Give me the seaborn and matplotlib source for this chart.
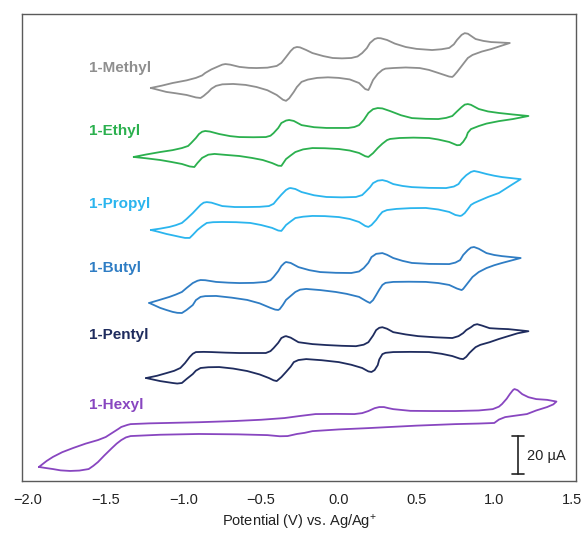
import numpy as np
import pandas as pd
import matplotlib
matplotlib.use("Agg")
import matplotlib.pyplot as plt
import seaborn as sns

# ---------------- data: (potential / V, current / µA) ----------------
compounds = ["1-Methyl", "1-Ethyl", "1-Propyl", "1-Butyl", "1-Pentyl", "1-Hexyl"]
colors = ["#8f8f8f", "#2bb04e", "#2bb5ee", "#2f7dc4", "#1f2c5e", "#8846c0"]
offsets = [207.3, 170.9, 132.4, 93.9, 54.3, 7.4]          # vertical stacking (µA)
label_y = [217.8, 184.6, 146.1, 112.3, 77.0, 40.1]

methyl_scan = [
    (-1.21, 0), (-1.14, 1.2), (-1.07, 2.6), (-0.98, 4.0), (-0.92, 5.3), (-0.88, 6.6), (-0.86, 7.9),
    (-0.82, 9.8), (-0.77, 11.6), (-0.75, 12.3), (-0.73, 12.6), (-0.70, 12.3), (-0.64, 11.1),
    (-0.58, 10.6), (-0.53, 10.5), (-0.46, 10.7), (-0.40, 11.6), (-0.37, 13.2), (-0.34, 16.3),
    (-0.31, 19.5), (-0.29, 21.1), (-0.27, 21.6), (-0.25, 21.4), (-0.21, 20.0), (-0.17, 18.4),
    (-0.10, 16.8), (-0.04, 15.8), (0.02, 15.6), (0.08, 15.8), (0.12, 16.6), (0.15, 18.4),
    (0.18, 21.0), (0.20, 23.7), (0.23, 25.8), (0.25, 26.3), (0.27, 26.2), (0.31, 25.3),
    (0.36, 23.4), (0.43, 21.6), (0.50, 20.6), (0.60, 20.0), (0.66, 20.4), (0.71, 21.1),
    (0.74, 23.0), (0.76, 25.3), (0.79, 28.0), (0.81, 28.9), (0.83, 28.6), (0.88, 25.8),
    (0.93, 24.8), (0.98, 24.2), (1.10, 23.7),
    (0.98, 20.5), (0.92, 19.2), (0.86, 17.4), (0.83, 15.8), (0.81, 13.7), (0.78, 10.5),
    (0.76, 8.4), (0.74, 6.5), (0.73, 5.8), (0.71, 6.0), (0.64, 7.9), (0.58, 9.5), (0.52, 10.5),
    (0.43, 10.8), (0.35, 10.5), (0.30, 10.2), (0.28, 9.5), (0.25, 7.4), (0.22, 4.2), (0.20, 0.5),
    (0.19, -1.1), (0.17, -0.6), (0.13, 2.6), (0.07, 4.5), (0.00, 5.3), (-0.07, 5.6), (-0.14, 5.3),
    (-0.20, 4.4), (-0.24, 3.2), (-0.27, 0.5), (-0.29, -2.1), (-0.32, -5.5), (-0.34, -6.8),
    (-0.36, -6.2), (-0.40, -3.7), (-0.46, -1.2), (-0.53, 0.5), (-0.60, 1.6), (-0.68, 2.1),
    (-0.75, 1.9), (-0.79, 1.1), (-0.82, -0.4), (-0.84, -2.1), (-0.87, -4.2), (-0.89, -5.3),
    (-0.92, -5.0), (-0.98, -3.7), (-1.05, -2.8), (-1.11, -2.1), (-1.21, 0)]

ethyl_scan = [
    (-1.32, 0), (-1.24, 1.3), (-1.15, 2.6), (-1.07, 3.6), (-1.01, 4.7), (-0.97, 5.8), (-0.95, 7.4),
    (-0.92, 10.0), (-0.90, 12.1), (-0.88, 13.3), (-0.86, 13.7), (-0.83, 13.4), (-0.77, 12.1),
    (-0.70, 11.0), (-0.64, 10.5), (-0.55, 10.4), (-0.47, 10.5), (-0.44, 11.2), (-0.42, 12.6),
    (-0.39, 15.3), (-0.37, 17.9), (-0.34, 19.2), (-0.32, 19.5), (-0.29, 19.0), (-0.24, 16.8),
    (-0.16, 15.7), (-0.08, 15.3), (0.06, 15.3), (0.10, 15.8), (0.13, 16.8), (0.16, 19.5),
    (0.19, 23.2), (0.22, 25.2), (0.25, 25.8), (0.28, 25.6), (0.33, 24.2), (0.40, 22.0),
    (0.47, 20.5), (0.56, 20.1), (0.64, 20.0), (0.69, 20.6), (0.73, 21.6), (0.76, 24.0),
    (0.79, 26.3), (0.81, 27.6), (0.83, 27.9), (0.85, 27.5), (0.90, 25.3), (0.96, 24.0),
    (1.03, 23.2), (1.12, 22.4), (1.22, 21.6),
    (1.12, 20.0), (1.03, 18.9), (0.95, 17.6), (0.90, 16.3), (0.85, 14.7), (0.83, 12.8),
    (0.82, 10.5), (0.80, 8.0), (0.78, 6.3), (0.76, 6.2), (0.71, 7.9), (0.64, 9.2), (0.58, 10.0),
    (0.48, 10.2), (0.39, 10.0), (0.33, 9.5), (0.31, 8.9), (0.28, 7.0), (0.25, 4.7), (0.22, 2.0),
    (0.19, 0), (0.17, 0.4), (0.13, 2.1), (0.07, 3.4), (0.00, 4.2), (-0.09, 4.6), (-0.17, 4.7),
    (-0.23, 4.0), (-0.28, 2.6), (-0.31, 0.8), (-0.34, -1.1), (-0.36, -3.5), (-0.37, -4.7),
    (-0.39, -4.6), (-0.43, -3.2), (-0.49, -1.6), (-0.56, -0.5), (-0.64, 0.5), (-0.73, 1.1),
    (-0.80, 1.6), (-0.84, 1.2), (-0.88, -0.5), (-0.91, -3.2), (-0.93, -5.3), (-0.96, -5.0),
    (-1.01, -3.7), (-1.08, -2.6), (-1.15, -1.6), (-1.24, -0.7), (-1.32, 0)]

propyl_scan = [
    (-1.21, 0), (-1.15, 0.7), (-1.09, 1.6), (-1.05, 2.5), (-1.01, 3.7), (-0.98, 5.8), (-0.94, 8.9),
    (-0.91, 11.5), (-0.89, 13.2), (-0.87, 14.4), (-0.85, 14.7), (-0.82, 14.4), (-0.75, 12.6),
    (-0.67, 12.1), (-0.59, 12.1), (-0.51, 12.2), (-0.45, 12.6), (-0.42, 13.8), (-0.40, 15.8),
    (-0.37, 18.6), (-0.34, 21.1), (-0.32, 22.0), (-0.31, 22.1), (-0.28, 21.6), (-0.24, 20.0),
    (-0.16, 18.3), (-0.08, 17.4), (0.02, 17.2), (0.11, 17.4), (0.15, 18.4), (0.17, 20.0),
    (0.20, 22.5), (0.22, 24.7), (0.25, 26.0), (0.28, 26.3), (0.31, 25.7), (0.35, 24.2),
    (0.41, 23.2), (0.47, 22.6), (0.58, 22.2), (0.69, 22.1), (0.74, 22.9), (0.77, 24.2),
    (0.79, 26.5), (0.82, 28.9), (0.85, 30.6), (0.87, 31.1), (0.90, 30.6), (0.95, 29.5),
    (1.00, 28.6), (1.05, 27.9), (1.17, 26.8),
    (1.11, 23.7), (1.07, 21.6), (1.03, 19.5), (0.96, 17.4), (0.90, 15.3), (0.87, 14.2),
    (0.85, 13.2), (0.83, 11.0), (0.81, 8.9), (0.79, 7.6), (0.78, 7.4), (0.75, 7.9), (0.71, 9.5),
    (0.64, 10.8), (0.56, 11.6), (0.46, 11.5), (0.37, 11.1), (0.31, 10.5), (0.28, 9.5),
    (0.26, 7.6), (0.24, 5.3), (0.21, 2.6), (0.19, 1.6), (0.17, 2.1), (0.13, 4.2), (0.07, 5.8),
    (0.00, 6.8), (-0.09, 7.3), (-0.17, 7.4), (-0.23, 7.0), (-0.28, 6.3), (-0.31, 4.5),
    (-0.34, 2.6), (-0.36, 0.5), (-0.37, -0.5), (-0.39, -0.3), (-0.43, 1.1), (-0.50, 2.6),
    (-0.57, 3.7), (-0.66, 4.1), (-0.75, 4.2), (-0.81, 4.1), (-0.85, 3.7), (-0.88, 2.0),
    (-0.91, 0), (-0.94, -2.6), (-0.96, -4.2), (-0.99, -4.2), (-1.02, -3.7), (-1.07, -2.8),
    (-1.11, -2.1), (-1.16, -1.0), (-1.21, 0)]

butyl_scan = [
    (-1.22, 0), (-1.15, 1.7), (-1.09, 3.2), (-1.05, 4.4), (-1.01, 5.8), (-0.98, 7.9), (-0.94, 10.5),
    (-0.91, 11.7), (-0.89, 12.1), (-0.86, 12.0), (-0.79, 11.1), (-0.71, 10.7), (-0.64, 10.5),
    (-0.55, 10.6), (-0.47, 11.1), (-0.44, 12.0), (-0.42, 13.7), (-0.39, 16.8), (-0.37, 19.5),
    (-0.35, 21.1), (-0.34, 21.6), (-0.31, 21.1), (-0.26, 18.9), (-0.19, 17.3), (-0.12, 16.3),
    (-0.02, 15.9), (0.08, 15.8), (0.13, 16.6), (0.16, 18.4), (0.19, 21.2), (0.21, 24.2),
    (0.24, 25.9), (0.28, 26.3), (0.31, 25.4), (0.35, 23.7), (0.41, 22.2), (0.47, 21.1),
    (0.58, 20.6), (0.71, 20.5), (0.75, 21.3), (0.78, 22.6), (0.80, 25.3), (0.83, 27.9),
    (0.85, 29.2), (0.87, 29.5), (0.90, 28.6), (0.95, 26.3), (1.00, 25.3), (1.05, 24.7),
    (1.17, 23.7),
    (1.11, 22.4), (1.05, 21.1), (1.00, 19.9), (0.95, 18.4), (0.90, 16.3), (0.86, 13.7),
    (0.84, 11.6), (0.82, 9.5), (0.80, 7.4), (0.79, 6.8), (0.76, 7.6), (0.71, 9.5), (0.64, 10.5),
    (0.56, 11.1), (0.45, 11.2), (0.35, 11.1), (0.30, 10.6), (0.28, 9.5), (0.26, 7.0), (0.24, 4.2),
    (0.22, 1.5), (0.20, 0), (0.18, 0.8), (0.13, 3.2), (0.05, 4.8), (-0.02, 5.8), (-0.12, 6.8),
    (-0.21, 7.4), (-0.25, 7.0), (-0.28, 5.8), (-0.31, 3.7), (-0.34, 1.6), (-0.36, -1.0),
    (-0.38, -3.2), (-0.39, -3.7), (-0.41, -3.5), (-0.44, -2.6), (-0.51, -0.2), (-0.59, 1.6),
    (-0.69, 2.8), (-0.79, 3.7), (-0.86, 3.6), (-0.89, 3.2), (-0.92, 1.5), (-0.94, -1.1),
    (-0.98, -3.7), (-1.01, -5.3), (-1.04, -5.2), (-1.07, -4.7), (-1.11, -3.7), (-1.15, -2.6),
    (-1.22, 0)]

pentyl_scan = [
    (-1.24, 0), (-1.17, 1.2), (-1.11, 2.6), (-1.06, 3.8), (-1.02, 5.3), (-0.99, 7.9), (-0.96, 11.1),
    (-0.94, 12.8), (-0.92, 13.7), (-0.87, 13.8), (-0.82, 13.7), (-0.73, 13.4), (-0.64, 13.2),
    (-0.55, 13.2), (-0.47, 13.2), (-0.44, 14.2), (-0.42, 15.8), (-0.39, 18.6), (-0.37, 21.1),
    (-0.35, 21.9), (-0.34, 22.1), (-0.31, 21.3), (-0.26, 18.9), (-0.17, 17.9), (-0.08, 17.4),
    (0.02, 17.0), (0.11, 16.8), (0.16, 17.6), (0.19, 18.9), (0.22, 22.4), (0.24, 25.3),
    (0.26, 26.5), (0.28, 26.8), (0.31, 26.0), (0.35, 24.2), (0.43, 23.0), (0.51, 22.1),
    (0.62, 21.5), (0.73, 21.1), (0.77, 22.1), (0.80, 23.7), (0.82, 25.3), (0.85, 26.8),
    (0.87, 28.0), (0.89, 28.4), (0.92, 27.7), (0.97, 26.3), (1.03, 26.0), (1.09, 25.8),
    (1.22, 24.7),
    (1.15, 23.6), (1.09, 22.1), (1.03, 20.6), (0.97, 18.9), (0.91, 17.5), (0.88, 16.3),
    (0.86, 14.8), (0.84, 13.2), (0.82, 11.2), (0.80, 10.0), (0.78, 10.2), (0.73, 11.6),
    (0.66, 12.8), (0.58, 13.7), (0.46, 13.8), (0.35, 13.7), (0.30, 13.3), (0.28, 12.6),
    (0.26, 9.8), (0.25, 6.8), (0.23, 4.2), (0.21, 3.2), (0.19, 3.5), (0.15, 5.3), (0.08, 7.0),
    (0.00, 8.4), (-0.11, 9.4), (-0.21, 10.0), (-0.26, 9.5), (-0.29, 8.4), (-0.31, 6.0),
    (-0.34, 3.2), (-0.37, 0.5), (-0.40, -1.6), (-0.42, -1.2), (-0.45, 0), (-0.51, 1.9),
    (-0.59, 3.7), (-0.68, 5.0), (-0.77, 5.8), (-0.84, 5.7), (-0.89, 5.3), (-0.92, 3.9),
    (-0.94, 2.1), (-0.98, -0.5), (-1.01, -2.6), (-1.04, -2.9), (-1.07, -2.6), (-1.15, -1.6),
    (-1.24, 0)]

hexyl_scan = [
    (-1.93, 0), (-1.88, 3.2), (-1.84, 5.3), (-1.78, 7.8), (-1.71, 10.0), (-1.63, 12.3),
    (-1.55, 14.2), (-1.50, 15.8), (-1.46, 17.9), (-1.42, 20.0), (-1.40, 21.1), (-1.36, 22.2),
    (-1.34, 22.6), (-1.22, 23.0), (-1.11, 23.2), (-0.90, 23.6), (-0.68, 24.2), (-0.50, 24.9),
    (-0.35, 25.8), (-0.25, 26.9), (-0.15, 27.9), (-0.02, 28.0), (0.10, 27.9), (0.15, 28.4),
    (0.19, 29.5), (0.23, 31.0), (0.26, 31.6), (0.29, 31.6), (0.32, 31.0), (0.35, 30.5),
    (0.46, 29.6), (0.60, 29.5), (0.75, 29.5), (0.90, 29.8), (0.99, 30.5), (1.03, 31.8),
    (1.05, 33.2), (1.08, 36.0), (1.10, 38.4), (1.12, 40.5), (1.13, 41.1), (1.15, 40.5),
    (1.18, 38.4), (1.22, 36.8), (1.27, 35.8), (1.34, 35.4), (1.40, 34.5),
    (1.38, 33.0), (1.34, 31.6), (1.27, 29.8), (1.21, 27.9), (1.13, 27.0), (1.07, 26.3),
    (1.03, 25.0), (1.00, 23.2), (0.90, 22.9), (0.75, 22.6), (0.50, 21.8), (0.19, 20.5),
    (0.00, 19.8), (-0.17, 18.9), (-0.22, 18.0), (-0.27, 17.4), (-0.33, 16.3), (-0.38, 16.2),
    (-0.46, 16.8), (-0.65, 17.2), (-0.90, 17.4), (-1.15, 17.0), (-1.34, 16.3), (-1.37, 15.6),
    (-1.40, 14.2), (-1.43, 12.3), (-1.46, 10.0), (-1.51, 6.0), (-1.55, 2.6), (-1.58, 0.6),
    (-1.61, -1.1), (-1.67, -1.9), (-1.73, -2.1), (-1.79, -1.8), (-1.84, -1.1), (-1.89, -0.5),
    (-1.93, 0)]

scans = [methyl_scan, ethyl_scan, propyl_scan, butyl_scan, pentyl_scan, hexyl_scan]

x_ticks = [-2.0, -1.5, -1.0, -0.5, 0.0, 0.5, 1.0, 1.5]
x_limits = (-2.039, 1.526)
y_limits = (0, 246.3)
scale_bar_E = 1.153
scale_bar_I = [3.7, 23.7]   # 20 µA
scale_label = "20 µA"

# ---------------- plotting ----------------
sns.set_theme(style="white")
plt.rcParams["font.family"] = ["Liberation Sans", "DejaVu Sans"]
plt.rcParams["mathtext.fontset"] = "custom"
plt.rcParams["mathtext.rm"] = "Liberation Sans"
plt.rcParams["mathtext.it"] = "Liberation Sans"

fig = plt.figure(figsize=(5.82, 5.33), dpi=100)
ax = fig.add_axes([22 / 582, 52 / 533, 554 / 582, 467 / 533])

for name, scan, off, col, ly in zip(compounds, scans, offsets, colors, label_y):
    df = pd.DataFrame(scan, columns=["E", "I"])
    df["I"] = df["I"] + off
    sns.lineplot(data=df, x="E", y="I", sort=False, estimator=None,
                 color=col, lw=1.3, ax=ax)
    ax.lines[-1].set_solid_joinstyle("round")
    ax.text(-1.609, ly, name, color=col, fontsize=11, fontweight="bold",
            ha="left", va="center")

# scale bar
cap = 0.039
ax.plot([scale_bar_E, scale_bar_E], scale_bar_I, color="#222222", lw=1.2)
for yv in scale_bar_I:
    ax.plot([scale_bar_E - cap, scale_bar_E + cap], [yv, yv], color="#222222", lw=1.2)
ax.text(scale_bar_E + 0.055, np.mean(scale_bar_I) - 0.5, scale_label, fontsize=10.5,
        color="#222222", ha="left", va="center")

ax.set_xlim(*x_limits)
ax.set_ylim(*y_limits)
ax.set_xticks(x_ticks)
ax.set_xticklabels([f"{v:.1f}".replace("-", "\u2212") for v in x_ticks])
ax.set_yticks([])
ax.set_ylabel("")
ax.set_xlabel("Potential (V) vs. Ag/Ag$^{+}$", fontsize=10.5, color="#222222", labelpad=4)
ax.tick_params(axis="x", length=0, pad=9, labelsize=10.5, labelcolor="#222222")
for sp in ax.spines.values():
    sp.set_visible(True)
    sp.set_color("#5a5a5a")
    sp.set_linewidth(1.0)

fig.savefig("out.png", dpi=100)
